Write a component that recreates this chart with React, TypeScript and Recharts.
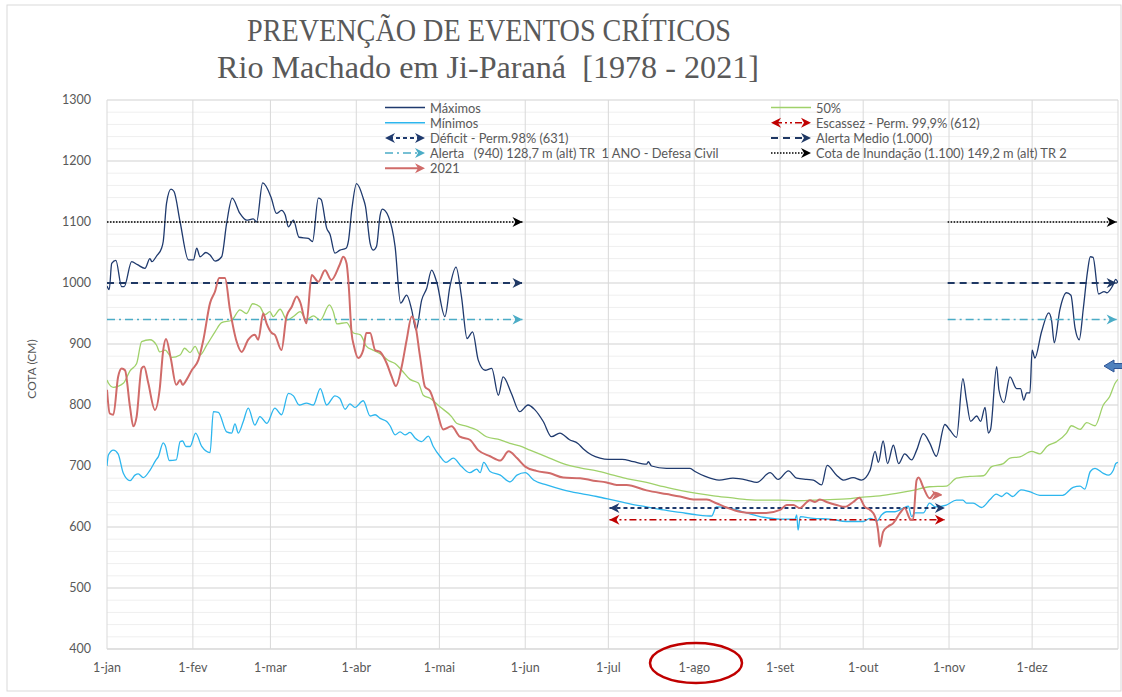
import { LineChart, Line, XAxis, YAxis, CartesianGrid } from "recharts";

type Pt = [number, number];

// x = day of year (0 = 1-jan), y = cota (cm)
const MONTH_DAYS = [0, 31, 59, 90, 120, 151, 181, 212, 243, 273, 304, 334];
const MONTH_LABELS = ["1-jan", "1-fev", "1-mar", "1-abr", "1-mai", "1-jun", "1-jul", "1-ago", "1-set", "1-out", "1-nov", "1-dez"];
const Y_TICKS = [400, 500, 600, 700, 800, 900, 1000, 1100, 1200, 1300];

const MAXIMOS: Pt[] = [
  [0, 995], [0.8, 989], [1.7, 1032], [3.2, 1037], [5.3, 994], [6.2, 994], [8.9, 1035], [11, 1030], [13.7, 1024],
  [15.5, 1040], [16.2, 1035], [18, 1045], [19.7, 1057], [20.3, 1068], [21.5, 1131], [23.1, 1154], [24.2, 1150],
  [26.4, 1100], [29.4, 1038], [31.2, 1038], [32.4, 1057], [33.6, 1043], [35.7, 1050], [37.2, 1046], [39, 1036],
  [41.4, 1043], [43.2, 1098], [45.2, 1139], [48, 1114], [50.4, 1103], [52.8, 1105], [54, 1100], [56.2, 1164],
  [59.2, 1141], [61.2, 1114], [63, 1119], [64.3, 1112], [65.5, 1092], [67.3, 1103], [69.3, 1075], [72.7, 1073],
  [74.2, 1068], [76.3, 1139], [77.3, 1137], [79.3, 1090], [80.5, 1080], [82.3, 1049], [84.1, 1054], [86.3, 1057],
  [87.2, 1070], [88.4, 1121], [90.1, 1163], [92.5, 1139], [93.3, 1126], [95, 1065], [96.1, 1054], [97.3, 1060],
  [98.6, 1111], [99.4, 1121], [101.6, 1109], [104, 1060], [106, 967], [108.2, 980], [110, 956], [111.6, 923],
  [113.6, 972], [115.4, 991], [117.2, 1021], [119, 1002], [122, 945], [123.8, 994], [126, 1026], [128, 977],
  [130, 909], [132, 920], [134, 874], [136.5, 857], [138.9, 860], [141.3, 816], [143, 846], [146, 819], [149, 789],
  [152, 800], [154.5, 792], [157.5, 773], [160.5, 748], [163.5, 754], [167, 743], [170, 737], [172, 728],
  [175, 718], [178, 713], [181, 711], [186, 711], [190, 707], [194.8, 703], [195.4, 707], [196.6, 700], [202, 696],
  [206.9, 696], [210.5, 696], [212.3, 691], [216, 683], [221, 677], [226, 680], [231, 677], [234.6, 673],
  [239.4, 689], [242.3, 678], [246, 692], [249, 680], [252.6, 678], [255, 677], [258, 669], [260, 701],
  [263.4, 685], [265.8, 677], [269.4, 681], [272.4, 677], [275.5, 693], [277.3, 724], [278.5, 706], [280.2, 741],
  [281.8, 704], [283.9, 734], [285.8, 704], [288, 720], [290.5, 710], [292.3, 726], [294.7, 753], [297, 738],
  [299.4, 716], [302.5, 768], [304.3, 759], [306.7, 747], [309, 843], [310.3, 808], [311.8, 773], [314, 782],
  [315.4, 773], [317, 796], [318.2, 754], [319, 760], [321.2, 863], [322, 825], [323.8, 804], [326, 846],
  [328.4, 827], [329.8, 827], [331, 808], [332, 820], [333.2, 820], [334, 890], [335, 877], [337.4, 920],
  [340, 951], [341, 939], [342, 902], [344, 956], [346.4, 984], [348, 980], [349.5, 926], [351, 907], [352.5, 959],
  [354, 1019], [355, 1043], [356, 1042], [358, 982], [360, 986], [361, 984], [363, 995], [364.2, 1006], [365, 1000],
];

const MEDIANA: Pt[] = [
  [0, 841], [0.5, 836], [2.3, 829], [6, 836], [8.3, 856], [10.7, 868], [12.5, 904], [15.5, 907], [17.9, 898],
  [19, 887], [21, 890], [23.4, 878], [26.4, 882], [28, 893], [30, 886], [31.8, 896], [33.6, 882], [36, 898],
  [39, 920], [41.4, 935], [45, 939], [48, 956], [50.4, 950], [52.6, 966], [55.2, 961], [57, 948], [58.8, 953],
  [60, 945], [62.5, 957], [65, 939], [67.3, 945], [69.7, 953], [72, 940], [74.5, 946], [77, 939], [80.3, 964],
  [81.7, 953], [83, 933], [86.5, 935], [89, 918], [91.5, 915], [93.7, 896], [96, 890], [98.6, 884], [101.6, 873],
  [104, 868], [106.4, 857], [109.4, 842], [112.4, 836], [114.2, 816], [116.6, 811], [120.2, 797], [124.4, 781],
  [126.2, 770], [130, 765], [133.5, 759], [137, 748], [142, 743], [145.5, 737], [149, 733], [152.7, 726],
  [158.7, 715], [164.7, 704], [170.8, 697], [176.8, 692], [182.8, 685], [188, 679], [194.8, 673], [201, 666],
  [206.9, 660], [213, 655], [219, 651], [225, 648], [231, 645], [237, 644], [243, 644], [249, 643], [255, 644],
  [261, 645], [267, 646], [273, 649], [279, 651], [285, 655], [291, 660], [297, 666], [303, 667], [306.7, 680],
  [311.5, 683], [316.4, 684], [319.4, 699], [323.6, 704], [326, 713], [329.6, 715], [333.8, 724], [336.8, 720],
  [339.3, 732], [342.9, 740], [346.4, 754], [348.2, 766], [351.3, 760], [353.7, 771], [356.7, 766], [359.7, 800],
  [362, 814], [364, 836], [365, 842],
];

const MINIMOS: Pt[] = [
  [0, 700], [0.5, 718], [2.3, 726], [4, 720], [5.9, 688], [8.3, 676], [10.1, 685], [11.3, 687], [13.1, 681],
  [15.5, 693], [17.7, 710], [18.5, 715], [20.3, 738], [21, 734], [22.5, 709], [25, 710], [26.4, 740], [27.3, 741],
  [28.5, 732], [30, 732], [32, 754], [34.2, 732], [37.2, 722], [38.4, 789], [40.2, 788], [43.2, 756], [45, 754],
  [46.2, 769], [47.4, 754], [49.2, 773], [51, 795], [53.4, 767], [55.2, 781], [57.7, 770], [60.6, 795], [63, 784],
  [65.5, 819], [67.3, 815], [69.4, 800], [72, 803], [74.5, 800], [77, 827], [79.3, 800], [82.3, 815], [84, 811],
  [86, 793], [87.7, 802], [89.5, 796], [92.5, 807], [95, 782], [96.8, 784], [98.6, 778], [101, 773], [102.2, 766],
  [104, 751], [105.8, 756], [107.6, 751], [109.4, 755], [111.2, 746], [113.6, 740], [116, 749], [117.8, 732],
  [120.2, 716], [122.4, 706], [125, 713], [128, 699], [131, 689], [133.5, 695], [134.7, 689], [136, 706],
  [138.3, 691], [142, 685], [145.5, 674], [148, 685], [151, 689], [154, 677], [158.7, 669], [164.7, 661],
  [170.8, 655], [176.8, 650], [182.8, 644], [188.8, 638], [194.8, 633], [200.8, 628], [206.9, 624], [212.9, 620],
  [218.3, 618], [220, 633], [225, 631], [231, 623], [237, 616], [243, 613], [248.4, 613], [249, 620], [249.5, 595],
  [250.3, 617], [255, 614], [261, 613], [267, 609], [273, 609], [275.5, 614], [278, 610], [279.7, 620],
  [281.5, 625], [284.5, 625], [287.5, 631], [289.3, 634], [290.5, 617], [291.7, 623], [294.7, 623], [297, 639],
  [299, 633], [303, 636], [306.7, 644], [309, 644], [310.3, 639], [312.7, 639], [315.7, 632], [318.8, 645],
  [321, 654], [323, 650], [324.8, 656], [327, 650], [330, 661], [333, 658], [336.8, 652], [341.6, 652], [345, 652],
  [348.8, 665], [351.3, 667], [353, 662], [355, 691], [356.7, 696], [359.7, 688], [361.5, 685], [363.3, 693],
  [364.2, 704], [365, 706],
];

const ANO_2021: Pt[] = [
  [0, 825], [1, 786], [2.3, 784], [4, 846], [5.3, 860], [6.5, 857], [8.3, 797], [9.5, 765], [10.7, 781],
  [12.5, 860], [13.4, 863], [14.9, 836], [17.3, 792], [19, 825], [20.3, 890], [21.3, 908], [23, 877], [25, 833],
  [26.4, 841], [27.3, 833], [28.8, 842], [30.6, 857], [33, 874], [34.8, 907], [37.2, 967], [39, 986], [40.5, 1008],
  [42.6, 1008], [44.4, 956], [46.8, 904], [48.6, 887], [51, 907], [53.4, 915], [54.6, 907], [56.4, 950],
  [57.6, 934], [59.5, 918], [60.6, 915], [63, 890], [64.8, 945], [66.7, 961], [68.5, 978], [69.7, 969], [72, 934],
  [73.9, 1013], [76.3, 1002], [78.7, 1021], [81, 1005], [84, 1030], [85.3, 1043], [86.5, 1032], [87.2, 1000],
  [88.3, 918], [89.2, 896], [90.7, 877], [92.5, 890], [93.6, 918], [95, 918], [96.8, 890], [98.6, 887], [101, 868],
  [102.8, 846], [104.3, 831], [106.4, 863], [108.2, 907], [110, 945], [111.2, 934], [113, 880], [114.8, 830],
  [116.6, 823], [119, 792], [121.4, 760], [124.4, 765], [127.4, 748], [131, 743], [134, 726], [138.3, 716],
  [142, 709], [145, 724], [148, 713], [151, 699], [155, 692], [160, 688], [164.7, 681], [170.8, 680], [175.6, 676],
  [180.4, 673], [184, 669], [187.6, 669], [194.8, 660], [202, 654], [206.9, 650], [211.7, 645], [216.5, 645],
  [220, 639], [223.7, 632], [228.5, 625], [233.3, 623], [238, 623], [243, 628], [245.4, 636], [247.8, 636],
  [250, 631], [253.8, 644], [255.6, 641], [257.4, 645], [259.8, 641], [263.4, 636], [266.4, 633], [269.4, 641],
  [271.6, 648], [273.6, 633], [275.5, 628], [277.3, 617], [278.5, 590], [279, 568], [280.2, 592], [282, 601],
  [283.8, 606], [286.3, 623], [288, 631], [290, 613], [291, 612], [292.3, 677], [293, 681], [294.7, 665],
  [297, 647], [299, 656], [301.3, 652],
];

// reference levels and the periods they are drawn over
const COTA_INUNDACAO = 1100;
const ALERTA_MEDIO = 1000;
const ALERTA = 940;
const DEFICIT = 631;
const ESCASSEZ = 612;
const HIGH_SPANS: Pt[] = [[0, 150], [303.5, 364.5]];
const LOW_SPAN: Pt = [181.4, 302.5];

const GREY_TEXT = "#595959";
const C_MAX = "#1f3a6e";
const C_MIN = "#2db6ee";
const C_MED = "#9fd16a";
const C_2021 = "#d06b69";
const C_DEFICIT = "#1f3a6e";
const C_ESCASSEZ = "#c00000";
const C_ALERTA_MEDIO = "#1f3864";
const C_ALERTA = "#4bacc6";
const C_COTA = "#000000";

const toRows = (pts: Pt[]) => pts.map(([day, v]) => ({ day, v }));

const highRows = (v: number) => [
  { day: HIGH_SPANS[0][0], v },
  { day: HIGH_SPANS[0][1], v },
  { day: HIGH_SPANS[0][1] + 1, v: null },
  { day: HIGH_SPANS[1][0], v },
  { day: HIGH_SPANS[1][1], v },
];
const lowRows = (v: number) => [
  { day: LOW_SPAN[0], v },
  { day: LOW_SPAN[1], v },
];

function arrowPath(x: number, y: number, dir: 1 | -1) {
  return `M${x},${y} L${x - dir * 10},${y - 5} L${x - dir * 7},${y} L${x - dir * 10},${y + 5} Z`;
}

function makeDot(color: string, right: number[], left: number[] = []) {
  return (p: any) => {
    const { cx, cy, index } = p;
    if (cx == null || cy == null || p.value == null || Number.isNaN(cy)) return <g key={`n${index}`} />;
    if (right.includes(index)) return <path key={`r${index}`} d={arrowPath(cx, cy, 1)} fill={color} />;
    if (left.includes(index)) return <path key={`l${index}`} d={arrowPath(cx, cy, -1)} fill={color} />;
    return <g key={`n${index}`} />;
  };
}

type LegendItem = {
  label: string;
  color: string;
  width: number;
  dash?: string;
  right?: boolean;
  left?: boolean;
  col: number;
  row: number;
};

const LEGEND: LegendItem[] = [
  { label: "Máximos", color: C_MAX, width: 1.5, col: 0, row: 0 },
  { label: "Mínimos", color: C_MIN, width: 1.5, col: 0, row: 1 },
  { label: "Déficit - Perm.98% (631)", color: C_DEFICIT, width: 2, dash: "4 3", right: true, left: true, col: 0, row: 2 },
  { label: "Alerta   (940) 128,7 m (alt) TR  1 ANO - Defesa Civil", color: C_ALERTA, width: 1.5, dash: "8 4 2 4", right: true, col: 0, row: 3 },
  { label: "2021", color: C_2021, width: 2, right: true, col: 0, row: 4 },
  { label: "50%", color: C_MED, width: 1.5, col: 1, row: 0 },
  { label: "Escassez - Perm. 99,9% (612)", color: C_ESCASSEZ, width: 1.5, dash: "7 3 2 3 2 3", right: true, left: true, col: 1, row: 1 },
  { label: "Alerta Medio (1.000)", color: C_ALERTA_MEDIO, width: 2, dash: "7 5", right: true, col: 1, row: 2 },
  { label: "Cota de Inundação (1.100) 149,2 m (alt) TR 2", color: C_COTA, width: 1.5, dash: "1.5 1.5", right: true, col: 1, row: 3 },
];

function Overlay() {
  const colX = [385, 771];
  return (
    <svg width={1122} height={697} style={{ position: "absolute", left: 0, top: 0, pointerEvents: "none" }}>
      <rect x={7} y={5} width={1114} height={686} fill="none" stroke="#d9d9d9" />
      <text x={489} y={41} textAnchor="middle" fontFamily="Liberation Serif" fontSize={31} fill={GREY_TEXT}
        textLength={484} lengthAdjust="spacingAndGlyphs" style={{ whiteSpace: "pre" }}>
        PREVENÇÃO DE EVENTOS CRÍTICOS
      </text>
      <text x={488} y={78} textAnchor="middle" fontFamily="Liberation Serif" fontSize={31} fill={GREY_TEXT}
        textLength={542} lengthAdjust="spacingAndGlyphs" style={{ whiteSpace: "pre" }}>
        {"Rio Machado em Ji-Paraná  [1978 - 2021]"}
      </text>
      <text x={0} y={0} transform="translate(36,369) rotate(-90)" textAnchor="middle" fontFamily="Lato" fontSize={12} fill={GREY_TEXT}>
        COTA (CM)
      </text>
      {LEGEND.map((it) => {
        const x0 = colX[it.col];
        const x1 = x0 + 40;
        const y = 107.5 + it.row * 15.2;
        return (
          <g key={it.label}>
            <line x1={it.left ? x0 + 4 : x0} x2={it.right ? x1 - 4 : x1} y1={y} y2={y} stroke={it.color}
              strokeWidth={it.width} strokeDasharray={it.dash} />
            {it.right && <path d={arrowPath(x1, y, 1)} fill={it.color} />}
            {it.left && <path d={arrowPath(x0, y, -1)} fill={it.color} />}
            <text x={x1 + 5} y={y} dominantBaseline="central" fontFamily="Lato" fontSize={12.8} fill={GREY_TEXT}
              style={{ whiteSpace: "pre" }}>
              {it.label}
            </text>
          </g>
        );
      })}
      <ellipse cx={696} cy={663} rx={46} ry={20} fill="none" stroke="#c00000" strokeWidth={2.5} />
      <path d="M1104,366 L1114,360 L1114,363.5 L1124,363.5 L1124,368.5 L1114,368.5 L1114,372 Z"
        fill="#4f81bd" stroke="#2f5597" strokeWidth={1} />
    </svg>
  );
}

export default function App() {
  const minorY: number[] = [];
  for (let v = 400; v <= 1300; v += 20) minorY.push(v);
  const tickStyle = { fontFamily: "Lato", fontSize: 12.5, fill: GREY_TEXT };

  return (
    <div style={{ position: "absolute", left: 0, top: 0, width: 1122, height: 697, background: "#fff" }}>
      <LineChart width={1122} height={697} margin={{ top: 100, right: 4, bottom: 18, left: 47 }}>
        <CartesianGrid horizontalValues={minorY} vertical={false} stroke="#efefef" />
        <CartesianGrid horizontalValues={Y_TICKS} verticalValues={[...MONTH_DAYS, 365]} stroke="#d9d9d9" />
        <XAxis
          type="number"
          dataKey="day"
          domain={[0, 365]}
          ticks={MONTH_DAYS}
          tickFormatter={(d: number) => MONTH_LABELS[MONTH_DAYS.indexOf(d)] ?? ""}
          allowDataOverflow
          height={30}
          axisLine={{ stroke: "#d9d9d9" }}
          tickLine={false}
          tickMargin={8}
          tick={tickStyle}
          interval={0}
        />
        <YAxis
          type="number"
          domain={[400, 1300]}
          ticks={Y_TICKS}
          width={60}
          axisLine={false}
          tickLine={false}
          tickMargin={10}
          tick={tickStyle}
          interval={0}
        />

        <Line data={toRows(MAXIMOS)} dataKey="v" name="Máximos" type="monotone" stroke={C_MAX} strokeWidth={1.3} dot={false} isAnimationActive={false} />
        <Line data={toRows(MEDIANA)} dataKey="v" name="50%" type="monotone" stroke={C_MED} strokeWidth={1.3} dot={false} isAnimationActive={false} />
        <Line data={toRows(MINIMOS)} dataKey="v" name="Mínimos" type="monotone" stroke={C_MIN} strokeWidth={1.3} dot={false} isAnimationActive={false} />

        <Line data={lowRows(ESCASSEZ)} dataKey="v" name="Escassez" type="linear" stroke={C_ESCASSEZ} strokeWidth={1.5}
          strokeDasharray="7 3 2 3 2 3" dot={makeDot(C_ESCASSEZ, [1], [0])} activeDot={false} isAnimationActive={false} />
        <Line data={lowRows(DEFICIT)} dataKey="v" name="Déficit" type="linear" stroke={C_DEFICIT} strokeWidth={2}
          strokeDasharray="4 3" dot={makeDot(C_DEFICIT, [1], [0])} activeDot={false} isAnimationActive={false} />
        <Line data={highRows(ALERTA_MEDIO)} dataKey="v" name="Alerta Medio" type="linear" stroke={C_ALERTA_MEDIO} strokeWidth={2}
          strokeDasharray="7 5" dot={makeDot(C_ALERTA_MEDIO, [1, 4])} activeDot={false} isAnimationActive={false} />
        <Line data={highRows(ALERTA)} dataKey="v" name="Alerta" type="linear" stroke={C_ALERTA} strokeWidth={1.5}
          strokeDasharray="8 4 2 4" dot={makeDot(C_ALERTA, [1, 4])} activeDot={false} isAnimationActive={false} />
        <Line data={highRows(COTA_INUNDACAO)} dataKey="v" name="Cota de Inundação" type="linear" stroke={C_COTA} strokeWidth={1.5}
          strokeDasharray="1.5 1.5" dot={makeDot(C_COTA, [1, 4])} activeDot={false} isAnimationActive={false} />

        <Line data={toRows(ANO_2021)} dataKey="v" name="2021" type="monotone" stroke={C_2021} strokeWidth={2}
          dot={makeDot(C_2021, [ANO_2021.length - 1])} activeDot={false} isAnimationActive={false} />
      </LineChart>
      <Overlay />
    </div>
  );
}
